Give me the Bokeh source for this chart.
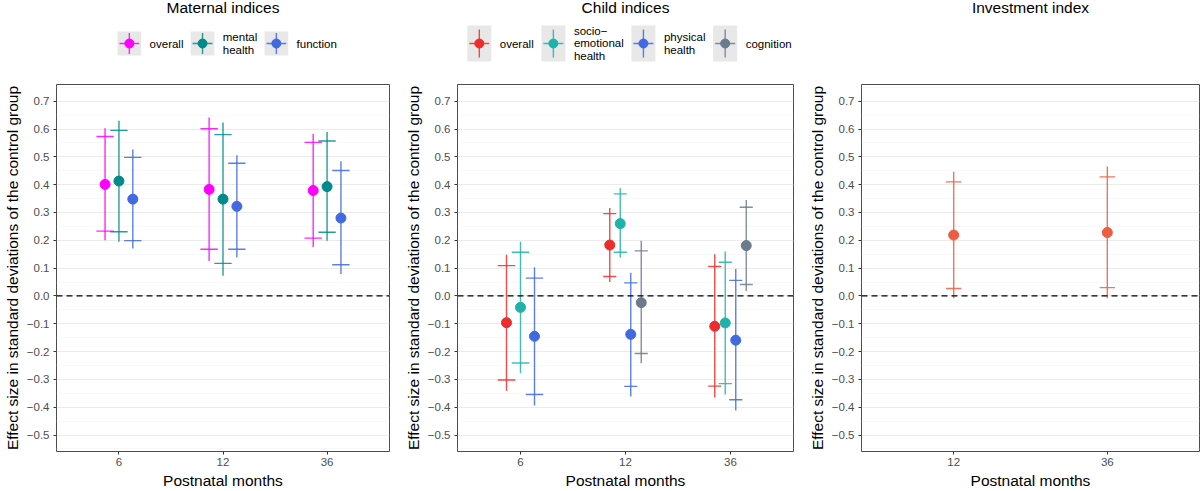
from bokeh.plotting import figure
from bokeh.layouts import row, column
from bokeh.models import Range1d, FixedTicker, CustomJSTickFormatter, Span, ColumnDataSource
from bokeh.embed import file_html
from bokeh.resources import INLINE
from bokeh.core.properties import value

# ---------------- data ----------------
maternal_months = ["6", "12", "36"]
child_months = ["6", "12", "36"]
investment_months = ["12", "36"]

# Maternal indices: estimate, inner interval (ticks), outer interval (line)
mat_overall_est = [0.401, 0.383, 0.379]
mat_overall_lo = [0.233, 0.168, 0.208]
mat_overall_hi = [0.573, 0.601, 0.552]
mat_overall_lo_outer = [0.200, 0.126, 0.176]
mat_overall_hi_outer = [0.603, 0.641, 0.583]

mat_mental_est = [0.413, 0.348, 0.393]
mat_mental_lo = [0.231, 0.117, 0.229]
mat_mental_hi = [0.595, 0.580, 0.557]
mat_mental_lo_outer = [0.195, 0.073, 0.198]
mat_mental_hi_outer = [0.630, 0.623, 0.589]

mat_function_est = [0.348, 0.322, 0.280]
mat_function_lo = [0.199, 0.168, 0.112]
mat_function_hi = [0.498, 0.477, 0.451]
mat_function_lo_outer = [0.171, 0.138, 0.079]
mat_function_hi_outer = [0.526, 0.506, 0.484]

# Child indices
ch_overall_est = [-0.096, 0.183, -0.109]
ch_overall_lo = [-0.302, 0.070, -0.324]
ch_overall_hi = [0.109, 0.296, 0.106]
ch_overall_lo_outer = [-0.341, 0.050, -0.365]
ch_overall_hi_outer = [0.148, 0.316, 0.150]

ch_socio_est = [-0.041, 0.260, -0.097]
ch_socio_lo = [-0.241, 0.157, -0.315]
ch_socio_hi = [0.157, 0.367, 0.121]
ch_socio_lo_outer = [-0.278, 0.138, -0.354]
ch_socio_hi_outer = [0.195, 0.387, 0.160]

ch_physical_est = [-0.145, -0.138, -0.159]
ch_physical_lo = [-0.354, -0.325, -0.373]
ch_physical_hi = [0.064, 0.047, 0.056]
ch_physical_lo_outer = [-0.394, -0.361, -0.412]
ch_physical_hi_outer = [0.103, 0.083, 0.097]

ch_cognition_est = [None, -0.024, 0.181]
ch_cognition_lo = [None, -0.207, 0.041]
ch_cognition_hi = [None, 0.162, 0.319]
ch_cognition_lo_outer = [None, -0.242, 0.018]
ch_cognition_hi_outer = [None, 0.198, 0.345]

# Investment index
inv_est = [0.219, 0.228]
inv_lo = [0.027, 0.030]
inv_hi = [0.410, 0.428]
inv_lo_outer = [-0.008, -0.008]
inv_hi_outer = [0.446, 0.465]

y_ticks = [-0.5, -0.4, -0.3, -0.2, -0.1, 0.0, 0.1, 0.2, 0.3, 0.4, 0.5, 0.6, 0.7]
y_minor_ticks = [-0.55, -0.45, -0.35, -0.25, -0.15, -0.05, 0.05, 0.15, 0.25, 0.35,
                 0.45, 0.55, 0.65, 0.75]

# ---------------- styling / layout ----------------
FONT = "Liberation Sans"
TOP_H = 76
MAIN_H = 415
Y_MIN, Y_MAX = -0.559, 0.76
TITLE_Y = 7
LEG_Y = 43
KEY_FILL = "#E8E8E8"

ARIAL = {'a': 556, 'b': 556, 'c': 500, 'd': 556, 'e': 556, 'f': 278, 'g': 556, 'h': 556,
         'i': 222, 'j': 222, 'k': 500, 'l': 222, 'm': 833, 'n': 556, 'o': 556, 'p': 556,
         'q': 556, 'r': 333, 's': 500, 't': 278, 'u': 556, 'v': 500, 'w': 722, 'x': 500,
         'y': 500, 'z': 500, ' ': 278, '\u2212': 584, '-': 333}


def text_w(s, size):
    return max(sum(ARIAL.get(c, 556) for c in line) for line in s.split("\n")) * size / 1000.0


def build_main(months, series, width, b_left, b_right, ebw, dodge_w=0.4):
    p = figure(width=width, height=MAIN_H, output_backend="svg", toolbar_location=None,
               x_range=Range1d(0.4, len(months) + 0.6), y_range=Range1d(Y_MIN, Y_MAX),
               min_border_left=b_left, min_border_right=b_right,
               min_border_top=8, min_border_bottom=36)
    p.background_fill_color = "white"
    p.border_fill_color = "white"
    p.outline_line_color = "#4D4D4D"
    p.outline_line_width = 1

    p.xgrid.visible = False
    p.ygrid.grid_line_color = "#EBEBEB"
    p.ygrid.grid_line_width = 1.1
    p.ygrid.minor_grid_line_color = "#F4F4F4"
    p.ygrid.minor_grid_line_width = 0.6

    p.yaxis.ticker = FixedTicker(ticks=y_ticks, minor_ticks=y_minor_ticks)
    p.yaxis.formatter = CustomJSTickFormatter(code="return tick.toFixed(1).replace('-', '\\u2212');")
    p.xaxis.ticker = FixedTicker(ticks=list(range(1, len(months) + 1)))
    p.xaxis.major_label_overrides = {i + 1: m for i, m in enumerate(months)}

    for ax in (p.xaxis[0], p.yaxis[0]):
        ax.axis_line_color = None
        ax.major_tick_in = 0
        ax.major_tick_out = 3
        ax.major_tick_line_color = "#333333"
        ax.minor_tick_line_color = None
        ax.major_label_text_font = FONT
        ax.major_label_text_font_size = "11.5px"
        ax.major_label_text_color = "#4D4D4D"
        ax.major_label_standoff = 3
        ax.axis_label_text_font = FONT
        ax.axis_label_text_font_size = "15.5px"
        ax.axis_label_text_font_style = "normal"
        ax.axis_label_text_color = "black"
        ax.axis_label_standoff = 3
    p.xaxis.axis_label = "Postnatal months"
    p.yaxis.axis_label = "Effect size in standard deviations of the control group"

    p.add_layout(Span(location=0, dimension="width", line_color="black",
                      line_dash="6 4", line_width=1.3))

    counts = [sum(1 for s in series if s[2][m] is not None) for m in range(len(months))]
    ranks = [0] * len(months)
    for label, color, est, lo, hi, lo2, hi2 in series:
        d = dict(x=[], x0=[], x1=[], est=[], lo=[], hi=[], lo2=[], hi2=[])
        for m in range(len(months)):
            if est[m] is None:
                continue
            n = counts[m]
            k = ranks[m]
            ranks[m] += 1
            x = (m + 1) + dodge_w * ((k + 0.5) / n - 0.5)
            hw = ebw / n / 2.0
            d["x"].append(x)
            d["x0"].append(x - hw)
            d["x1"].append(x + hw)
            d["est"].append(est[m])
            d["lo"].append(lo[m])
            d["hi"].append(hi[m])
            d["lo2"].append(lo2[m])
            d["hi2"].append(hi2[m])
        src = ColumnDataSource(d)
        lk = dict(source=src, line_color=color, line_width=1.4, line_alpha=0.85)
        p.segment(x0="x", x1="x", y0="lo2", y1="hi2", **lk)
        p.segment(x0="x0", x1="x1", y0="lo", y1="lo", **lk)
        p.segment(x0="x0", x1="x1", y0="hi", y1="hi", **lk)
        p.scatter("x", "est", source=src, size=10, fill_color=color, line_color=color)
    return p


def build_top(width, b_left, b_right, title, series, key_h):
    fw = width - b_left - b_right
    t = figure(width=width, height=TOP_H, output_backend="svg", toolbar_location=None,
               x_range=Range1d(0, fw), y_range=Range1d(TOP_H, 0),
               min_border_left=b_left, min_border_right=b_right,
               min_border_top=0, min_border_bottom=0,
               x_axis_location=None, y_axis_location=None)
    t.grid.visible = False
    t.outline_line_color = None
    t.background_fill_color = "white"
    t.border_fill_color = "white"
    cx = fw / 2.0
    t.text(x=[cx], y=[TITLE_Y], text=[title], text_align="center", text_baseline="middle",
           text_font=value(FONT), text_font_size="15.5px", text_color="black")
    if series:
        fs = 11.5
        widths = [text_w(s[0], fs) for s in series]
        total = sum(24 + 8.5 + w for w in widths) + 7.7 * (len(series) - 1)
        pos = cx + 4 - total / 2.0
        for (label, color, *_), w in zip(series, widths):
            kx = pos + 12
            vh = min(key_h - 3, 28) / 2.0
            t.rect(x=[kx], y=[LEG_Y], width=24, height=key_h, fill_color=KEY_FILL, line_color=None)
            t.segment(x0=[kx], x1=[kx], y0=[LEG_Y - vh], y1=[LEG_Y + vh],
                      line_color=color, line_width=1.4, line_alpha=0.85)
            t.segment(x0=[kx - 10], x1=[kx + 10], y0=[LEG_Y], y1=[LEG_Y],
                      line_color=color, line_width=1.4, line_alpha=0.85)
            t.scatter(x=[kx], y=[LEG_Y], size=9, fill_color=color, line_color=color)
            t.text(x=[pos + 24 + 8.5], y=[LEG_Y], text=[label], text_align="left",
                   text_baseline="middle", text_font=value(FONT), text_font_size="11.5px",
                   text_color="black", text_line_height=1.05)
            pos += 24 + 8.5 + w + 7.7
    return t


maternal_series = [
    ("overall", "#FF00FF", mat_overall_est, mat_overall_lo, mat_overall_hi,
     mat_overall_lo_outer, mat_overall_hi_outer),
    ("mental\nhealth", "#008B8B", mat_mental_est, mat_mental_lo, mat_mental_hi,
     mat_mental_lo_outer, mat_mental_hi_outer),
    ("function", "#4169E1", mat_function_est, mat_function_lo, mat_function_hi,
     mat_function_lo_outer, mat_function_hi_outer),
]
child_series = [
    ("overall", "#EE2C2C", ch_overall_est, ch_overall_lo, ch_overall_hi,
     ch_overall_lo_outer, ch_overall_hi_outer),
    ("socio\u2212\nemotional\nhealth", "#20B2AA", ch_socio_est, ch_socio_lo, ch_socio_hi,
     ch_socio_lo_outer, ch_socio_hi_outer),
    ("physical\nhealth", "#4169E1", ch_physical_est, ch_physical_lo, ch_physical_hi,
     ch_physical_lo_outer, ch_physical_hi_outer),
    ("cognition", "#6C7B8B", ch_cognition_est, ch_cognition_lo, ch_cognition_hi,
     ch_cognition_lo_outer, ch_cognition_hi_outer),
]
investment_series = [
    ("investment", "#EE5C42", inv_est, inv_lo, inv_hi, inv_lo_outer, inv_hi_outer),
]

W1, L1, R1 = 400, 52, 11
W2, L2, R2 = 400, 57, 7
W3, L3, R3 = 400, 61, 1

top1 = build_top(W1, L1, R1, "Maternal indices", maternal_series, 24)
top2 = build_top(W2, L2, R2, "Child indices", child_series, 36)
top3 = build_top(W3, L3, R3, "Investment index", [], 24)

main1 = build_main(maternal_months, maternal_series, W1, L1, R1, 0.5)
main2 = build_main(child_months, child_series, W2, L2, R2, 0.5)
main3 = build_main(investment_months, investment_series, W3, L3, R3, 0.1)

layout = row(column(top1, main1, spacing=0), column(top2, main2, spacing=0),
             column(top3, main3, spacing=0), spacing=0)

open("out.html", "w", encoding="utf-8").write(file_html(layout, INLINE))
